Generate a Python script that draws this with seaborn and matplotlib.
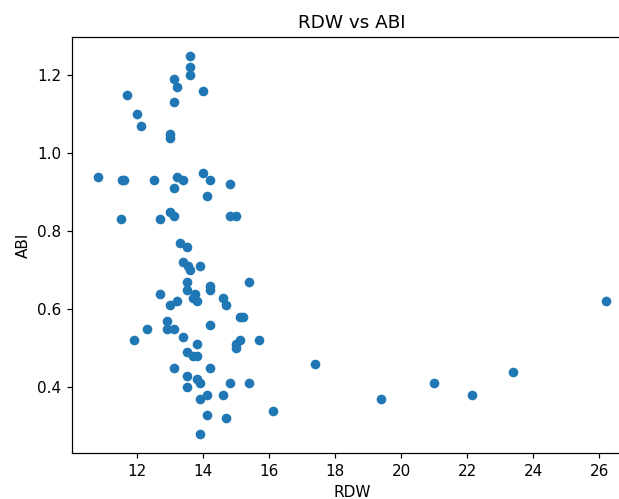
import matplotlib
matplotlib.use("Agg")
import matplotlib.pyplot as plt
import seaborn as sns
import pandas as pd

# values
rdw = [13.6, 13.6, 13.6, 13.1, 13.2, 14.0, 11.7, 13.1, 12.0, 12.1,
       13.0, 13.0, 10.8, 11.55, 11.6, 12.5, 13.2, 13.4, 14.0, 14.2,
       14.8, 13.1, 14.1, 11.5, 12.7, 13.0, 13.1, 14.8, 15.0, 13.3,
       13.5, 13.4, 13.55, 13.6, 13.9, 13.5, 15.4, 14.2, 14.2, 13.5,
       12.7, 13.75, 13.7, 13.8, 13.2, 13.0, 14.6, 14.7, 15.1, 15.2,
       12.9, 12.9, 13.1, 12.3, 14.2, 11.9, 13.4, 13.8, 15.1, 15.0,
       15.0, 15.7, 13.5, 13.7, 13.8, 13.1, 14.2, 13.5, 13.8, 13.9,
       13.5, 14.8, 15.4, 14.1, 13.9, 14.6, 14.1, 14.7, 13.9, 16.1,
       17.4, 19.4, 21.0, 22.15, 23.4, 26.2]
abi = [1.25, 1.22, 1.20, 1.19, 1.17, 1.16, 1.15, 1.13, 1.10, 1.07,
       1.05, 1.04, 0.94, 0.93, 0.93, 0.93, 0.94, 0.93, 0.95, 0.93,
       0.92, 0.91, 0.89, 0.83, 0.83, 0.85, 0.84, 0.84, 0.84, 0.77,
       0.76, 0.72, 0.71, 0.70, 0.71, 0.67, 0.67, 0.66, 0.65, 0.65,
       0.64, 0.64, 0.63, 0.62, 0.62, 0.61, 0.63, 0.61, 0.58, 0.58,
       0.57, 0.55, 0.55, 0.55, 0.56, 0.52, 0.53, 0.51, 0.52, 0.51,
       0.50, 0.52, 0.49, 0.48, 0.48, 0.45, 0.45, 0.43, 0.42, 0.41,
       0.40, 0.41, 0.41, 0.38, 0.37, 0.38, 0.33, 0.32, 0.28, 0.34,
       0.46, 0.37, 0.41, 0.38, 0.44, 0.62]

df = pd.DataFrame({"RDW": rdw, "ABI": abi})

dpi = 110
fig = plt.figure(figsize=(619 / dpi, 499 / dpi), dpi=dpi)
# axes run past the right edge, as in the reference crop
ax = fig.add_axes([72.3 / 619, 46 / 499, (631.2 - 72.3) / 619, (453 - 36.7) / 499])

sns.scatterplot(data=df, x="RDW", y="ABI", ax=ax, color="#1f77b4",
                s=40, linewidth=0, alpha=1.0)
ax.set_title("RDW vs ABI", fontsize=12)
ax.set_xlabel("RDW")
ax.set_ylabel("ABI")

fig.savefig("out.png", dpi=dpi)
